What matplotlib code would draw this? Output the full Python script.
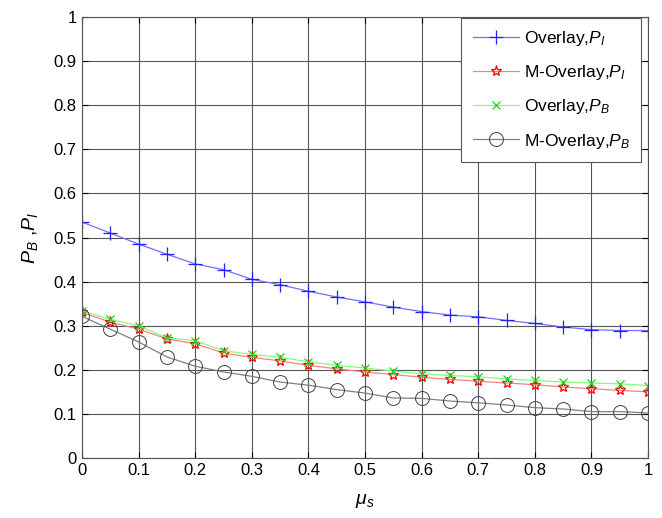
import numpy as np
import matplotlib
matplotlib.use("Agg")
import matplotlib.pyplot as plt

plt.rcParams['font.family'] = ['Liberation Sans', 'DejaVu Sans']
plt.rcParams['mathtext.fontset'] = 'custom'
plt.rcParams['mathtext.it'] = 'Liberation Sans:italic'
plt.rcParams['mathtext.rm'] = 'Liberation Sans'

mu_s = [0.0, 0.05, 0.1, 0.15, 0.2, 0.25, 0.3, 0.35, 0.4, 0.45, 0.5,
        0.55, 0.6, 0.65, 0.7, 0.75, 0.8, 0.85, 0.9, 0.95, 1.0]

overlay_pi = [0.535, 0.510, 0.485, 0.462, 0.440, 0.427, 0.405, 0.393, 0.378, 0.365, 0.354,
              0.342, 0.332, 0.324, 0.320, 0.312, 0.305, 0.297, 0.291, 0.289, 0.289]
m_overlay_pi = [0.330, 0.308, 0.292, 0.270, 0.259, 0.238, 0.228, 0.220, 0.210, 0.202, 0.195,
                0.189, 0.183, 0.178, 0.174, 0.170, 0.166, 0.161, 0.157, 0.153, 0.150]
overlay_pb = [0.334, 0.314, 0.300, 0.272, 0.266, 0.243, 0.235, 0.228, 0.218, 0.210, 0.204,
              0.197, 0.191, 0.187, 0.184, 0.179, 0.176, 0.172, 0.170, 0.168, 0.164]
m_overlay_pb = [0.321, 0.292, 0.263, 0.229, 0.208, 0.195, 0.185, 0.172, 0.165, 0.155, 0.147,
                0.136, 0.135, 0.129, 0.125, 0.120, 0.114, 0.111, 0.105, 0.105, 0.102]

ticks = [0, 0.1, 0.2, 0.3, 0.4, 0.5, 0.6, 0.7, 0.8, 0.9, 1]
tick_labels = ['0', '0.1', '0.2', '0.3', '0.4', '0.5', '0.6', '0.7', '0.8', '0.9', '1']

fig = plt.figure(figsize=(6.62, 5.18), dpi=100)
ax = fig.add_axes([0.124, 0.116, 0.855, 0.851])

ax.plot(mu_s, overlay_pi, color='#7070ff', lw=0.9, marker='+', ms=10,
        mec='#2020ff', mew=0.9, label='Overlay,$P_I$')
ax.plot(mu_s, m_overlay_pi, color='#ff8080', lw=0.9, marker='*', ms=8,
        mec='#ff0000', mfc='none', mew=0.9, label='M-Overlay,$P_I$')
ax.plot(mu_s, overlay_pb, color='#80ff80', lw=0.9, marker='x', ms=6,
        mec='#20d020', mew=0.9, label='Overlay,$P_B$')
ax.plot(mu_s, m_overlay_pb, color='#808080', lw=0.9, marker='o', ms=10,
        mec='#404040', mfc='none', mew=0.7, label='M-Overlay,$P_B$')

ax.set_xlim(0, 1)
ax.set_ylim(0, 1)
ax.set_xticks(ticks)
ax.set_xticklabels(tick_labels)
ax.set_yticks(ticks)
ax.set_yticklabels(tick_labels)
ax.tick_params(direction='in', top=True, right=True, labelsize=12, length=4, pad=4)
ax.grid(True, color='#555555', lw=0.8)
ax.set_axisbelow(True)
for s in ax.spines.values():
    s.set_color('#555555')

ax.set_xlabel(r'$\mu_s$', fontsize=14, labelpad=10)
ax.set_ylabel('$P_B$ ,$P_I$', fontsize=14, labelpad=10)

leg = ax.legend(loc='upper right', bbox_to_anchor=(0.988, 0.998), fontsize=12.5,
                fancybox=False, framealpha=1, edgecolor='#555555',
                handlelength=2.65, handletextpad=0.3, borderaxespad=0,
                labelspacing=0.87, borderpad=0.65)
leg.get_frame().set_linewidth(0.8)

fig.savefig('out.png', dpi=100)
